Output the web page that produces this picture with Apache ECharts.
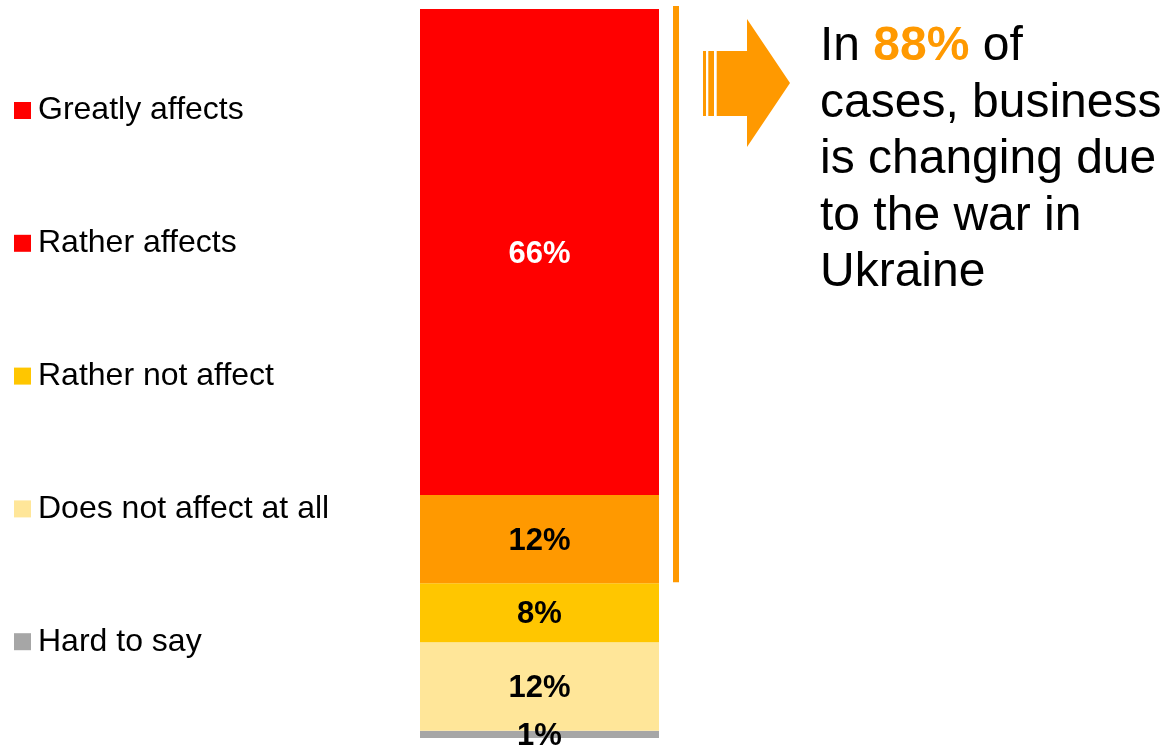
<!DOCTYPE html>
<html>
<head>
<meta charset="utf-8">
<script src="https://cdn.jsdelivr.net/npm/echarts@6/dist/echarts.min.js"></script>
<style>
  html, body { margin: 0; padding: 0; background: #ffffff; }
  #chart { width: 1164px; height: 746px; }
</style>
</head>
<body>
<div id="chart"></div>
<script>
// Survey answers: how the war in Ukraine affects business (share of respondents, %)
const categories = ['Impact'];
const legendOrder = ['Greatly affects', 'Rather affects', 'Rather not affect', 'Does not affect at all', 'Hard to say'];
const greatlyAffects = [66];
const ratherAffects = [12];
const ratherNotAffect = [8];
const doesNotAffect = [12];
const hardToSay = [1];
const calloutShare = '88%';

const FONT = '"Liberation Sans", Arial, "DejaVu Sans", sans-serif';
const segmentColors = {
  'Greatly affects': '#FF0000',
  'Rather affects': '#FF9900',
  'Rather not affect': '#FFC600',
  'Does not affect at all': '#FFE699',
  'Hard to say': '#A6A6A6'
};
// The legend swatch for "Rather affects" is drawn in red
const legendSwatch = {
  'Greatly affects': '#FF0000',
  'Rather affects': '#FF0000',
  'Rather not affect': '#FFC600',
  'Does not affect at all': '#FFE699',
  'Hard to say': '#A6A6A6'
};

// stacked from the bottom up
const stackOrder = [
  ['Hard to say', hardToSay],
  ['Does not affect at all', doesNotAffect],
  ['Rather not affect', ratherNotAffect],
  ['Rather affects', ratherAffects],
  ['Greatly affects', greatlyAffects]
];
const total = stackOrder.reduce((s, [, v]) => s + v[0], 0);

const chart = echarts.init(document.getElementById('chart'), null, { renderer: 'canvas' });

const series = stackOrder.map(([name, values]) => ({
  name,
  type: 'bar',
  stack: 'total',
  barWidth: '100%',
  data: values,
  itemStyle: { color: segmentColors[name] },
  label: {
    show: true,
    position: 'inside',
    offset: [0, 2],
    formatter: '{c}%',
    fontFamily: FONT,
    fontWeight: 'bold',
    fontSize: 31,
    color: name === 'Greatly affects' ? '#ffffff' : '#000000'
  },
  emphasis: { disabled: true }
}));

chart.setOption({
  animation: false,
  backgroundColor: '#ffffff',
  grid: { left: 420, width: 239, top: 9, bottom: 8 },
  xAxis: { type: 'category', data: categories, show: false },
  yAxis: { type: 'value', min: 0, max: total, show: false },
  legend: {
    orient: 'vertical',
    left: 14,
    top: 93,
    padding: 0,
    icon: 'rect',
    itemWidth: 17,
    itemHeight: 17,
    itemGap: 97.8,
    selectedMode: false,
    data: legendOrder.map(name => ({ name, itemStyle: { color: legendSwatch[name] } })),
    textStyle: {
      fontFamily: FONT,
      fontSize: 32,
      color: '#000000',
      lineHeight: 32,
      padding: [0, 0, 3, 2]
    }
  },
  series
});

// Bracket beside the two "affects" segments, plus arrow and callout text
const yTop = chart.convertToPixel({ yAxisIndex: 0 }, total);
const yBracketEnd = chart.convertToPixel({ yAxisIndex: 0 }, total - greatlyAffects[0] - ratherAffects[0]);

chart.setOption({
  graphic: [
    {
      type: 'rect',
      shape: { x: 673, y: yTop - 3, width: 6, height: yBracketEnd - yTop + 2 },
      style: { fill: '#FF9900' }
    },
    { type: 'rect', shape: { x: 703, y: 51, width: 3, height: 65 }, style: { fill: '#FF9900' } },
    { type: 'rect', shape: { x: 708.3, y: 51, width: 5.7, height: 65 }, style: { fill: '#FF9900' } },
    {
      type: 'polygon',
      shape: { points: [[716.7, 51], [747, 51], [747, 19], [790, 83], [747, 147], [747, 116], [716.7, 116]] },
      style: { fill: '#FF9900' }
    },
    {
      type: 'text',
      x: 820,
      y: 19,
      style: {
        text: 'In {hl|' + calloutShare + '} of\ncases, business\nis changing due\nto the war in\nUkraine',
        fontFamily: FONT,
        fontSize: 48,
        lineHeight: 56.5,
        fill: '#000000',
        rich: {
          hl: { fontFamily: FONT, fontSize: 48, fontWeight: 'bold', fill: '#FF9900', lineHeight: 56.5 }
        }
      }
    }
  ]
});
</script>
</body>
</html>
